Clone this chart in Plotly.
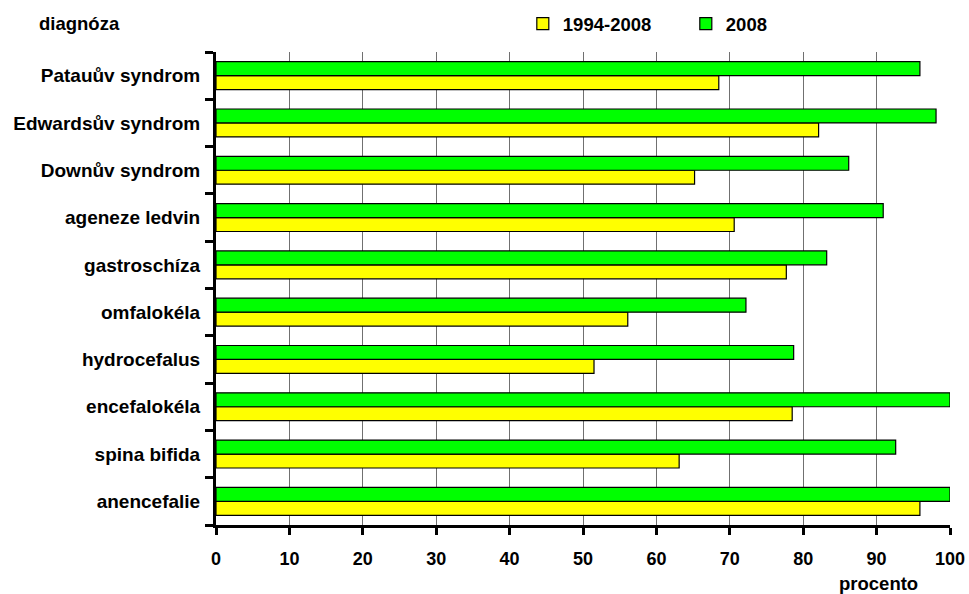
import plotly.graph_objects as go

# Diagnoses, listed bottom to top as they appear on the chart
diagnozy = [
    "anencefalie",
    "spina bifida",
    "encefalokéla",
    "hydrocefalus",
    "omfalokéla",
    "gastroschíza",
    "ageneze ledvin",
    "Downův syndrom",
    "Edwardsův syndrom",
    "Patauův syndrom",
]

# Share of prenatally diagnosed cases (%)
obdobi_1994_2008 = [95.9, 63.1, 78.5, 51.5, 56.1, 77.7, 70.6, 65.2, 82.1, 68.5]
rok_2008 = [100.0, 92.6, 100.0, 78.7, 72.2, 83.2, 90.9, 86.2, 98.1, 95.9]

x_ticks = [0, 10, 20, 30, 40, 50, 60, 70, 80, 90, 100]

FONT = "Liberation Sans, Arial, sans-serif"

fig = go.Figure()
fig.add_trace(go.Bar(
    y=diagnozy, x=obdobi_1994_2008, orientation="h", name="1994-2008",
    marker=dict(color="#ffff00", line=dict(color="#000000", width=1.2)),
))
fig.add_trace(go.Bar(
    y=diagnozy, x=rok_2008, orientation="h", name="2008",
    marker=dict(color="#00ff00", line=dict(color="#000000", width=1.2)),
))

fig.update_layout(
    width=969, height=594,
    margin=dict(l=216, r=19, t=52, b=69, autoexpand=False),
    paper_bgcolor="white", plot_bgcolor="white",
    barmode="group", bargap=0.41, bargroupgap=0,
    font=dict(family=FONT, size=18, color="#000000"),
    showlegend=True,
    legend=dict(
        orientation="h", x=0.418, y=1.059, xanchor="left", yanchor="middle",
        font=dict(family=FONT, size=18.5, color="#000000", weight="bold"),
        itemwidth=30, entrywidth=118, entrywidthmode="pixels",
        bgcolor="rgba(0,0,0,0)",
    ),
    xaxis=dict(
        range=[0, 100], tickvals=x_ticks, ticktext=[str(v) for v in x_ticks],
        showgrid=True, gridcolor="#707070", gridwidth=1,
        showline=True, linecolor="#000000", linewidth=3,
        ticks="outside", ticklen=7, tickwidth=3, tickcolor="#000000",
        ticklabelstandoff=8,
        tickfont=dict(family=FONT, size=18, color="#000000", weight="bold"),
        zeroline=False,
    ),
    yaxis=dict(
        type="category", categoryorder="array", categoryarray=diagnozy,
        showgrid=False, showline=True, linecolor="#000000", linewidth=3,
        ticks="outside", tickson="boundaries", ticklen=8, tickwidth=3,
        tickcolor="#000000", ticklabelstandoff=9,
        tickfont=dict(family=FONT, size=19, color="#000000", weight="bold"),
    ),
    annotations=[
        dict(text="diagnóza", xref="paper", yref="paper", x=(37 - 216) / 734,
             y=1 + 28 / 473, xanchor="left", yanchor="middle", showarrow=False,
             font=dict(family=FONT, size=18.5, color="#000000", weight="bold")),
        dict(text="procento", xref="paper", yref="paper", x=0.902,
             y=-58 / 473, xanchor="center", yanchor="middle", showarrow=False,
             font=dict(family=FONT, size=18.5, color="#000000", weight="bold")),
    ],
)

fig.write_html("out.html")
